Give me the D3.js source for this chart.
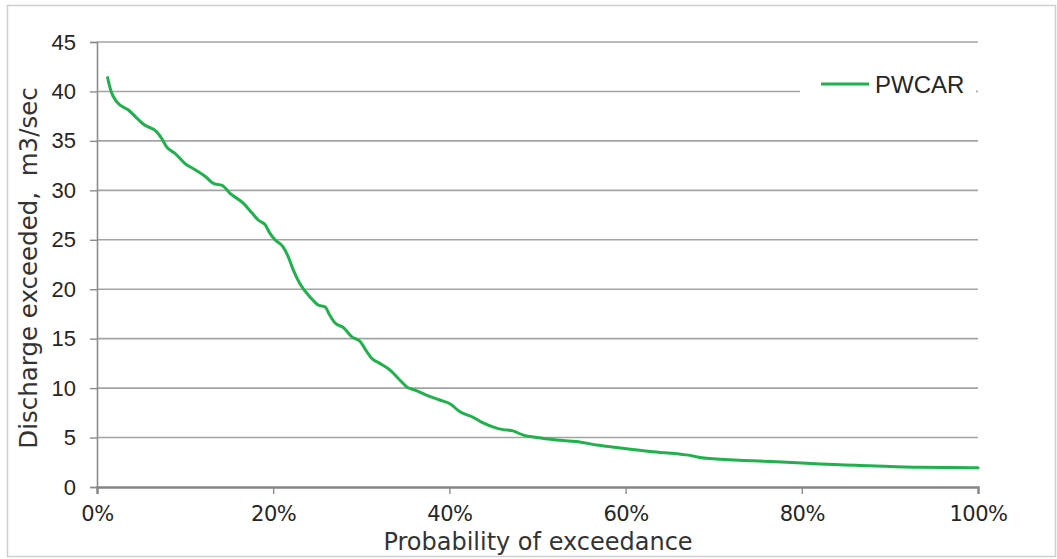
<!DOCTYPE html>
<html>
<head>
<meta charset="utf-8">
<script src="https://cdn.jsdelivr.net/npm/d3@7/dist/d3.min.js"></script>
<style>
  html, body { margin: 0; padding: 0; background: #ffffff; }
  svg { display: block; }
</style>
</head>
<body>
<svg id="chart" width="1057" height="559"></svg>
<script>
// ---- Data ----
const seriesName = "PWCAR";
const exceedance = [1.2, 1.6, 2.2, 3.6, 5.4, 6.8, 7.3, 7.9, 8.9, 10.0, 11.1, 12.3, 13.2, 14.2, 15.1, 16.6,
  17.6, 18.3, 19.1, 19.6, 20.2, 21.1, 21.7, 22.3, 23.0, 24.2, 25.1, 25.9, 26.4, 27.0, 28.0, 28.9,
  29.9, 30.4, 31.2, 32.1, 33.3, 34.4, 35.2, 36.1, 37.4, 38.9, 40.1, 41.2, 42.7, 43.9, 45.0, 46.1,
  47.1, 48.4, 49.9, 52.2, 54.4, 56.7, 59.0, 62.8, 66.9, 69.2, 74.5, 78.3, 82.1, 87.7, 93.4, 100];
const discharge = [41.4, 40.0, 39.0, 38.1, 36.6, 35.9, 35.3, 34.4, 33.7, 32.7, 32.1, 31.4, 30.7, 30.5, 29.7, 28.7,
  27.7, 27.0, 26.5, 25.7, 25.0, 24.3, 23.3, 21.9, 20.6, 19.2, 18.4, 18.2, 17.4, 16.6, 16.1, 15.2,
  14.7, 14.0, 13.0, 12.5, 11.8, 10.8, 10.1, 9.8, 9.3, 8.8, 8.4, 7.6, 7.05, 6.45, 6.05, 5.8,
  5.7, 5.25, 5.0, 4.75, 4.6, 4.25, 4.0, 3.6, 3.25, 2.9, 2.65, 2.5, 2.33, 2.16, 2.0, 1.95];
const xTicks = [0, 20, 40, 60, 80, 100];
const yTicks = [0, 5, 10, 15, 20, 25, 30, 35, 40, 45];
const xTitle = "Probability of exceedance";
const yTitle = "Discharge exceeded,\u00a0 m3/sec";

const data = exceedance.map((p, i) => ({ p, v: discharge[i] }));

// ---- Layout ----
const svg = d3.select("#chart");
const plot = { left: 97, right: 978, top: 42, bottom: 487 };

const x = d3.scaleLinear().domain([0, 100]).range([plot.left, plot.right]);
const y = d3.scaleLinear().domain([0, 45]).range([plot.bottom, plot.top]);

// outer frame
svg.append("rect")
  .attr("x", 7.5).attr("y", 5.5).attr("width", 1048).attr("height", 551)
  .attr("fill", "#ffffff").attr("stroke", "#cfcfcf").attr("stroke-width", 1.5);

// gridlines
svg.append("g")
  .selectAll("line")
  .data(yTicks.filter(d => d > 0))
  .join("line")
  .attr("x1", plot.left).attr("x2", plot.right)
  .attr("y1", d => y(d)).attr("y2", d => y(d))
  .attr("stroke", "#a3a3a3").attr("stroke-width", 1.6);

// y axis
const yAxis = d3.axisLeft(y).tickValues(yTicks).tickSize(7).tickPadding(14).tickFormat(d3.format("d"));
const gy = svg.append("g").attr("transform", `translate(${plot.left},0)`).call(yAxis);
gy.select(".domain").attr("stroke", "#8c8c8c").attr("stroke-width", 1.6);
gy.selectAll(".tick line").attr("stroke", "#8c8c8c").attr("stroke-width", 1.4);
gy.selectAll(".tick text")
  .attr("font-family", "'Liberation Sans', Arial, sans-serif")
  .attr("font-size", 22).attr("fill", "#262626");

// x axis
const xAxis = d3.axisBottom(x).tickValues(xTicks).tickSize(7).tickPadding(12).tickFormat(d => d + "%");
const gx = svg.append("g").attr("transform", `translate(0,${plot.bottom})`).call(xAxis);
gx.select(".domain").attr("stroke", "#858585").attr("stroke-width", 2.4);
gx.selectAll(".tick line").attr("stroke", "#8c8c8c").attr("stroke-width", 1.4);
gx.selectAll(".tick text")
  .attr("font-family", "'DejaVu Sans', sans-serif")
  .attr("font-size", 21).attr("fill", "#262626").attr("letter-spacing", -0.5);

// series line
const line = d3.line()
  .x(d => x(d.p))
  .y(d => y(d.v))
  .curve(d3.curveMonotoneX);
svg.append("path")
  .datum(data)
  .attr("fill", "none")
  .attr("stroke", "#1fb24c")
  .attr("stroke-width", 3)
  .attr("stroke-linejoin", "round")
  .attr("stroke-linecap", "round")
  .attr("d", line);

// legend (white box hides part of the 40 gridline)
const lg = svg.append("g");
lg.append("rect").attr("x", 800).attr("y", 52).attr("width", 176).attr("height", 78).attr("fill", "#ffffff");
lg.append("line").attr("x1", 821).attr("x2", 869).attr("y1", 84).attr("y2", 84)
  .attr("stroke", "#1fb24c").attr("stroke-width", 3);
lg.append("text").attr("x", 875).attr("y", 93)
  .attr("font-family", "'Liberation Sans', Arial, sans-serif")
  .attr("font-size", 24).attr("fill", "#262626").text(seriesName);

// axis titles
svg.append("text")
  .attr("x", 538).attr("y", 550).attr("text-anchor", "middle")
  .attr("font-family", "'DejaVu Sans', sans-serif")
  .attr("font-size", 24).attr("fill", "#333333").text(xTitle);
svg.append("text")
  .attr("transform", "translate(37,268) rotate(-90)")
  .attr("text-anchor", "middle")
  .attr("font-family", "'DejaVu Sans', sans-serif")
  .attr("font-size", 24.5).attr("fill", "#333333").text(yTitle);
</script>
</body>
</html>
